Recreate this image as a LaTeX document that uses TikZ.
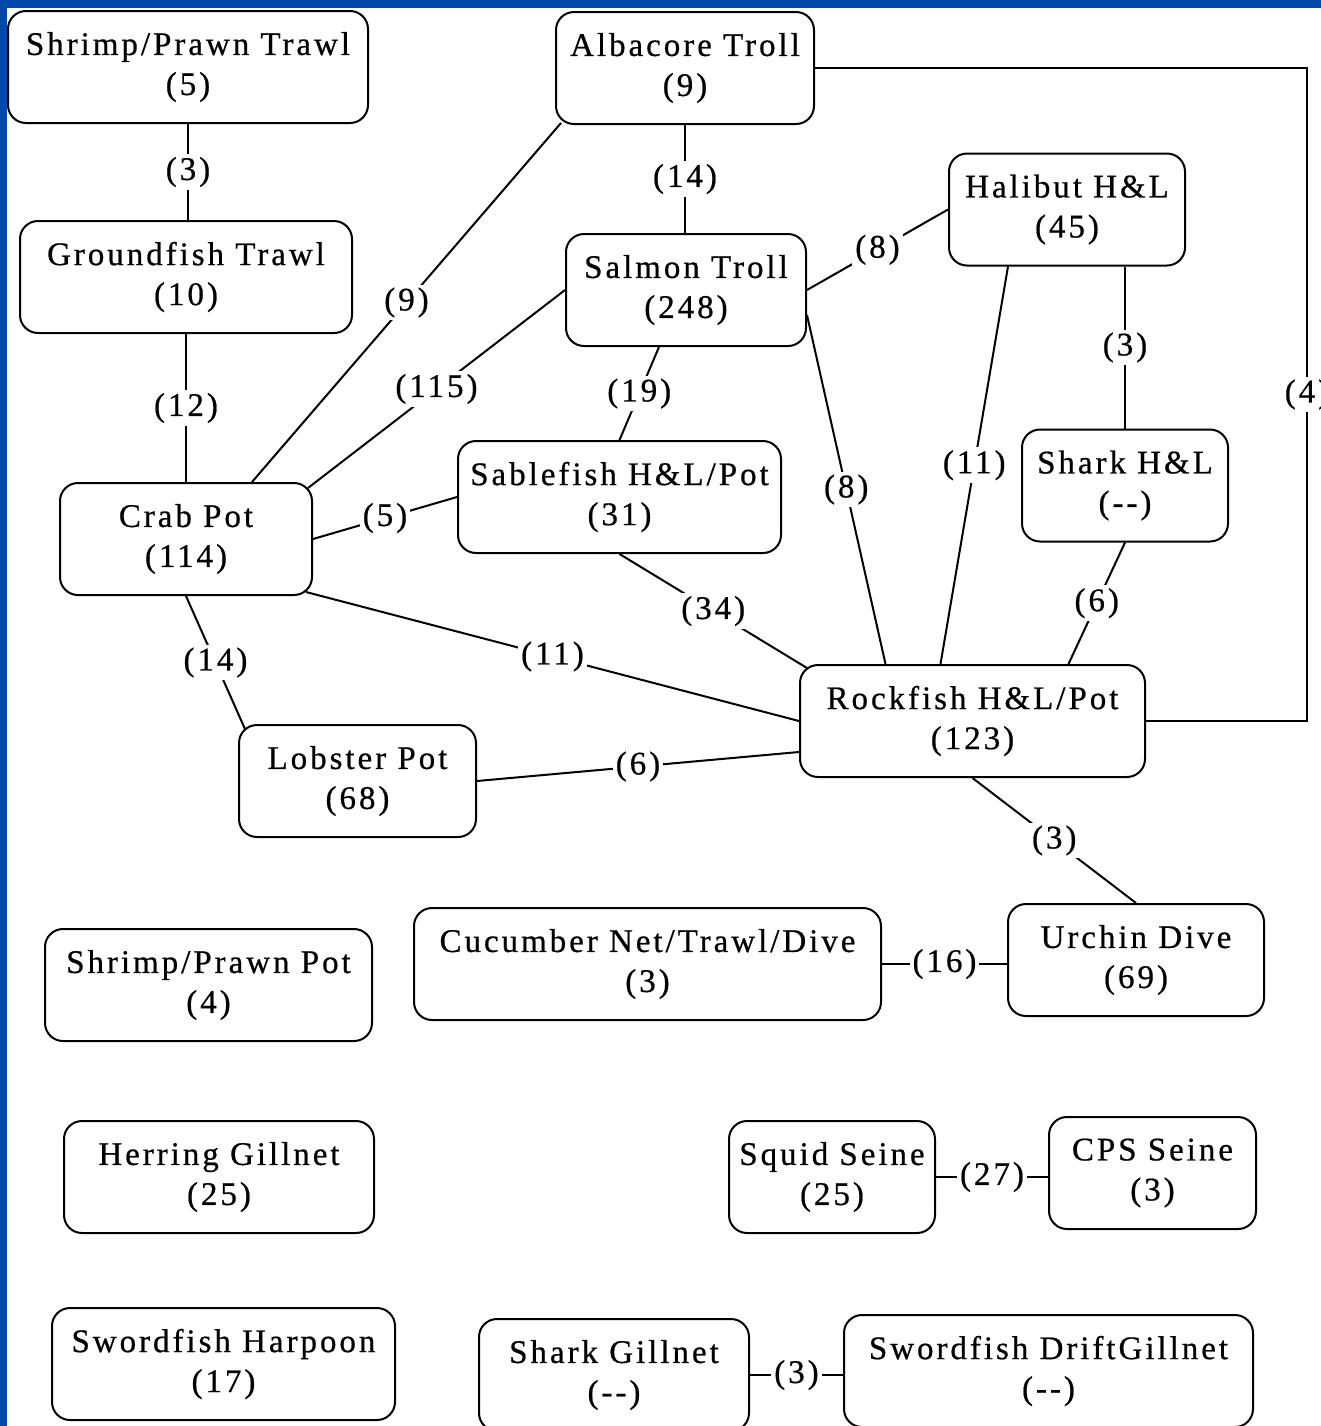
\documentclass[tikz,border=0pt]{standalone}
\usepackage{fontspec}
\setmainfont{Liberation Serif}[LetterSpace=9,FakeBold=0.6]
\usetikzlibrary{calc}
\definecolor{slideblue}{RGB}{0,72,170}
\begin{document}
\begin{tikzpicture}
		[	x=0.5pt,y=-0.5pt,
		box/.style={rectangle,rounded corners=9pt,draw=black,line width=1pt,fill=white,align=center,
			font=\fontsize{16.5}{20}\selectfont,minimum width=#1*0.5pt,minimum height=56pt,inner sep=2pt},
		lbl/.style={fill=white,inner sep=1.5pt,font=\fontsize{16.5}{20}\selectfont},
		edge/.style={line width=1pt}
		]
		\useasboundingbox (0,0) rectangle (1321,1426);
		\clip (0,0) rectangle (1321,1426);
		\fill[white] (0,0) rectangle (1321,1426);
		\fill[slideblue] (0,0) rectangle (1321,8);
		\fill[slideblue] (0,0) rectangle (7,1426);

		\node[box=360] (spt) at (188,67){Shrimp/Prawn Trawl\\(5)};
		\node[box=258] (at) at (685,68){Albacore Troll\\(9)};
		\node[box=332] (gt) at (186,277){Groundfish Trawl\\(10)};
		\node[box=240] (st) at (686,290){Salmon Troll\\(248)};
		\node[box=236] (hh) at (1067,209.5){Halibut H\&L\\(45)};
		\node[box=252] (cp) at (186,539){Crab Pot\\(114)};
		\node[box=323] (sb) at (619.5,497){Sablefish H\&L/Pot\\(31)};
		\node[box=206] (sh) at (1125,485.5){Shark H\&L\\(-{}-)};
		\node[box=345] (rf) at (972.5,721){Rockfish H\&L/Pot\\(123)};
		\node[box=237] (lp) at (357.5,781){Lobster Pot\\(68)};
		\node[box=327] (spp) at (208.5,985){Shrimp/Prawn Pot\\(4)};
		\node[box=467] (cu) at (647.5,964){Cucumber Net/Trawl/Dive\\(3)};
		\node[box=256] (ud) at (1136,960){Urchin Dive\\(69)};
		\node[box=310] (hg) at (219,1177){Herring Gillnet\\(25)};
		\node[box=206] (sq) at (832,1177){Squid Seine\\(25)};
		\node[box=207] (cps) at (1152.5,1173){CPS Seine\\(3)};
		\node[box=343] (sw) at (223.5,1364){Swordfish Harpoon\\(17)};
		\node[box=270] (sg) at (614,1375){Shark Gillnet\\(-{}-)};
		\node[box=409] (sdg) at (1048.5,1371){Swordfish DriftGillnet\\(-{}-)};

		\draw[edge] (spt.south) -- node[lbl]{(3)} (spt.south |- gt.north);
		\draw[edge] (at.south) -- node[lbl]{(14)} (at.south |- st.north);
		\draw[edge] (gt.south) -- node[lbl]{(12)} (cp.north);
		\draw[edge] (at.east) -| node[lbl,pos=.75]{(4)} ($(rf.east)+(161,0)$) -- (rf.east);
		\draw[edge] ($(at.south west)+(6,-2)$) -- node[lbl]{(9)} ($(cp.north)+(66,0)$);
		\draw[edge] (st.west) -- node[lbl]{(115)} ($(cp.north east)+(-5,6)$);
		\draw[edge] (st.east) -- node[lbl]{(8)} (hh.west);
		\draw[edge] ($(st.south)+(-27,0)$) -- node[lbl]{(19)} (sb.north);
		\draw[edge] ($(st.east)+(0,25)$) -- node[lbl]{(8)} ($(rf.north)+(-87,0)$);
		\draw[edge] ($(hh.south)+(-59,0)$) -- node[lbl]{(11)} ($(rf.north)+(-32,0)$);
		\draw[edge] (sh.north |- hh.south) -- node[lbl]{(3)} (sh.north);
		\draw[edge] (sh.south) -- node[lbl]{(6)} ($(rf.north)+(96,0)$);
		\draw[edge] (cp.east) -- node[lbl]{(5)} (sb.west);
		\draw[edge] (sb.south) -- node[lbl]{(34)} ($(rf.north west)+(8,4)$);
		\draw[edge] ($(cp.south east)+(-7,-4)$) -- node[lbl]{(11)} (rf.west);
		\draw[edge] (cp.south) -- node[lbl]{(14)} ($(lp.north west)+(7,5)$);
		\draw[edge] (lp.east) -- node[lbl]{(6)} ($(rf.west)+(0,31)$);
		\draw[edge] (rf.south) -- node[lbl]{(3)} (ud.north);
		\draw[edge] (cu.east) -- node[lbl]{(16)} (cu.east -| ud.west);
		\draw[edge] (sq.east) -- node[lbl]{(27)} (sq.east -| cps.west);
		\draw[edge] (sg.east) -- node[lbl]{(3)} (sg.east -| sdg.west);
	\end{tikzpicture}
\end{document}
